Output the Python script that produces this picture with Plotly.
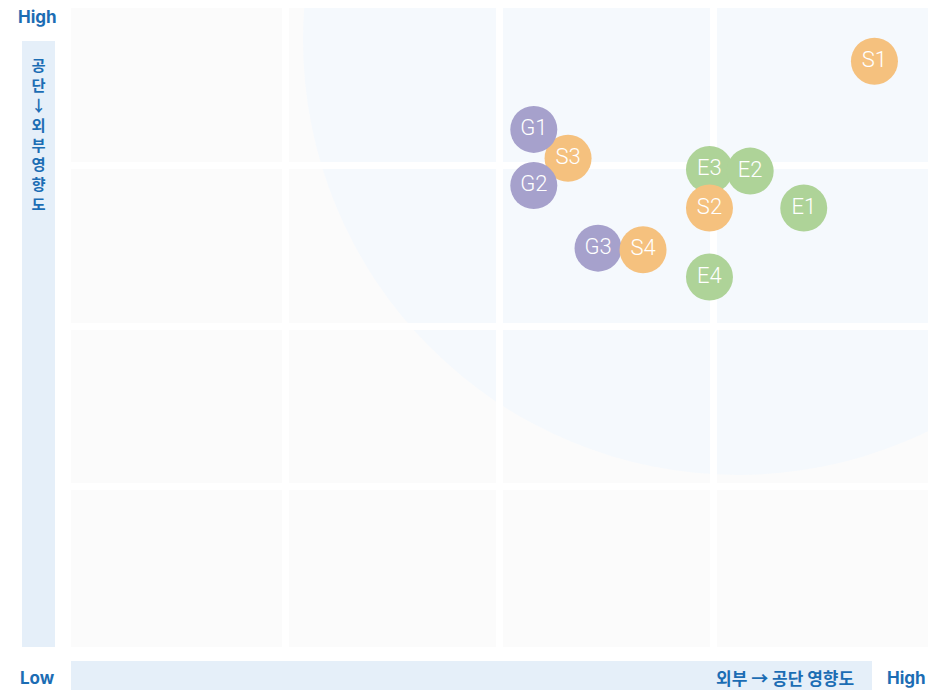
import plotly.graph_objects as go

# Data (scale 1-5 on both axes), listed in drawing order
labels = ["E3", "E2", "S2", "E1", "E4", "G3", "S4", "S3", "G1", "G2", "S1"]
x_vals = [3.98, 4.17, 3.98, 4.42, 3.98, 3.46, 3.67, 3.32, 3.16, 3.16, 4.75]
y_vals = [3.975, 3.965, 3.735, 3.735, 3.305, 3.485, 3.475, 4.045, 4.225, 3.875, 4.65]
groups = ["E", "E", "S", "E", "E", "G", "S", "S", "G", "G", "S"]

group_colors = {"E": "#aed398", "S": "#f5c17e", "G": "#a6a1cc"}

x_axis_title = "외부 → 공단 영향도"
y_axis_chars = ["공", "단", "↓", "외", "부", "영", "향", "도"]

BLUE = "#1c6db4"
KFONT = "Noto Sans CJK KR, sans-serif"
LFONT = "Inter, Noto Sans CJK KR, sans-serif"

# page offset of the figure (body margin) is 8px; positions below are in page pixels
OFF = 8
PL, PR, PT, PB = 71, 928, OFF, 647          # plot area in page pixels
PW, PH = PR - PL, PB - PT


def px(xp):
    return (xp - PL) / PW


def py(yp):
    return (PB - yp) / PH


fig = go.Figure()
fig.add_trace(go.Scatter(
    x=x_vals, y=y_vals, mode="markers+text",
    text=labels, textposition="middle center",
    marker=dict(size=47, color=[group_colors[g] for g in groups], line=dict(width=0), opacity=1),
    textfont=dict(family="Roboto", size=22, color="white", weight=300),
    hoverinfo="text", showlegend=False, cliponaxis=False,
))

shapes = [
    dict(type="circle", xref="x", yref="y", x0=2.083, x1=6.143, y0=2.072, y1=7.492,
         fillcolor="#f5f9fd", line=dict(width=0), layer="below"),
    dict(type="rect", xref="paper", yref="paper", x0=px(22), x1=px(55), y0=py(647), y1=py(41),
         fillcolor="#e5eff9", line=dict(width=0), layer="below"),
    dict(type="rect", xref="paper", yref="paper", x0=px(71), x1=px(872), y0=py(700), y1=py(661),
         fillcolor="#e5eff9", line=dict(width=0), layer="below"),
]

annotations = [
    dict(text="<b>High</b>", xref="paper", yref="paper", x=px(37.5), y=py(17.5),
         showarrow=False, font=dict(family=LFONT, size=17, color=BLUE), xanchor="center", yanchor="middle"),
    dict(text="<b>Low</b>", xref="paper", yref="paper", x=px(37), y=py(677.5),
         showarrow=False, font=dict(family=LFONT, size=17, color=BLUE), xanchor="center", yanchor="middle"),
    dict(text="<b>High</b>", xref="paper", yref="paper", x=px(906), y=py(677.5),
         showarrow=False, font=dict(family=LFONT, size=17, color=BLUE), xanchor="center", yanchor="middle"),
    dict(text="<b>" + x_axis_title + "</b>", xref="paper", yref="paper", x=px(856), y=py(677),
         showarrow=False, font=dict(family=KFONT, size=17, color=BLUE), xanchor="right", yanchor="middle"),
    dict(text="<br>".join("<b>%s</b>" % c for c in y_axis_chars), xref="paper", yref="paper",
         x=px(38.5), y=py(133.5), showarrow=False, font=dict(family=KFONT, size=15.3, color=BLUE),
         xanchor="center", yanchor="middle"),
]

y_top = 1 + 4 * PH / 642.0
axis_common = dict(tickvals=[2, 3, 4], showticklabels=False, ticks="",
                   showgrid=True, gridcolor="white", gridwidth=7, zeroline=False,
                   showline=False, fixedrange=True)

fig.update_layout(
    width=944 - OFF, height=690 - OFF,
    margin=dict(l=PL - OFF, r=944 - PR, t=PT - OFF, b=690 - PB),
    paper_bgcolor="white", plot_bgcolor="#fbfbfb",
    xaxis=dict(range=[1, 5], **axis_common), yaxis=dict(range=[1, y_top], **axis_common),
    shapes=shapes, annotations=annotations,
)

fig.write_html("out.html")
